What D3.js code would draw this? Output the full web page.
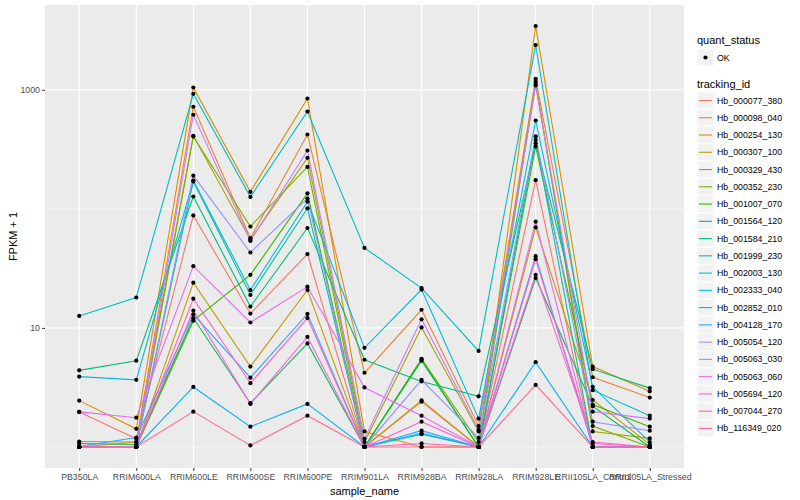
<!DOCTYPE html>
<html>
<head>
<meta charset="utf-8">
<script src="https://cdn.jsdelivr.net/npm/d3@7"></script>
<style>
	body { margin: 0; background: #fff; }
	svg { font-family: "Liberation Sans", Arial, sans-serif; display: block; }
</style>
</head>
<body>
<svg id="chart" width="800" height="500"></svg>
<script>
// Expression plot: FPKM + 1 per sample, one line per tracking id.
//
var samples = ['PB350LA', 'RRIM600LA', 'RRIM600LE', 'RRIM600SE', 'RRIM600PE', 'RRIM901LA',
	'RRIM928BA', 'RRIM928LA', 'RRIM928LE', 'RRII105LA_Control', 'RRII105LA_Stressed'];

var trackingIds = ['Hb_000077_380', 'Hb_000098_040', 'Hb_000254_130', 'Hb_000307_100',
	'Hb_000329_430', 'Hb_000352_230', 'Hb_001007_070', 'Hb_001564_120', 'Hb_001584_210',
	'Hb_001999_230', 'Hb_002003_130', 'Hb_002333_040', 'Hb_002852_010', 'Hb_004128_170',
	'Hb_005054_120', 'Hb_005063_030', 'Hb_005063_060', 'Hb_005694_120', 'Hb_007044_270',
	'Hb_116349_020'];

// FPKM + 1 values, one row per tracking id, in the order of the samples above.
var hb000077_380 = [1.97, 1.17, 88, 13.2, 41.7, 1.0, 2.4, 1.0, 174, 1.0, 1.0];
var hb000098_040 = [1.0, 1.1, 720, 56.7, 421, 4.2, 14.2, 1.5, 1237, 3.85, 2.6];
var hb000254_130 = [2.45, 1.42, 1045, 139, 845, 1.35, 1.0, 1.0, 3430, 4.73, 2.93];
var hb000307_100 = [1.0, 1.0, 24, 4.73, 20.8, 1.0, 2.46, 1.0, 70, 2.48, 1.05];
var hb000329_430 = [1.11, 1.1, 411, 55, 268, 1.1, 10.1, 1.35, 1174, 1.35, 1.18];
var hb000352_230 = [1.0, 1.0, 405, 71, 225, 1.0, 5.5, 1.1, 1123, 1.5, 1.0];
var hb001007_070 = [1.0, 1.0, 11.5, 27.9, 135, 1.0, 5.4, 1.0, 334, 2.27, 1.48];
var hb001564_120 = [1.07, 1.05, 12.1, 2.33, 7.4, 1.0, 5.3, 1.0, 26.2, 2.2, 1.0];
var hb001584_210 = [4.4, 5.3, 127, 15.1, 69, 5.4, 3.55, 2.66, 356, 4.5, 3.12];
var hb001999_230 = [1.0, 1.0, 170, 18.9, 101, 1.0, 1.28, 1.0, 380, 1.0, 1.0];
var hb002003_130 = [12.6, 18, 925, 126, 657, 47, 21.6, 6.4, 2376, 3.0, 1.83];
var hb002333_040 = [3.9, 3.66, 173, 20.8, 115, 6.8, 21, 1.73, 552, 3.2, 1.1];
var hb002852_010 = [1.0, 1.0, 3.19, 1.48, 2.3, 1.0, 1.3, 1.0, 5.15, 1.0, 1.0];
var hb004128_170 = [1.01, 1.2, 13, 3.82, 13.1, 1.0, 1.37, 1.0, 40, 1.0, 1.0];
var hb005054_120 = [1.0, 1.0, 190, 43, 122, 1.0, 3.66, 1.19, 406, 1.63, 1.37];
var hb005063_030 = [1.0, 1.0, 617, 53.8, 309, 1.17, 11.8, 1.39, 1087, 1.98, 1.73];
var hb005063_060 = [1.97, 1.76, 33, 11.1, 22.2, 3.16, 1.83, 1.0, 78, 1.0, 1.0];
var hb005694_120 = [1.0, 1.0, 14, 2.3, 8.4, 1.0, 1.63, 1.0, 27.9, 1.1, 1.0];
var hb007044_270 = [1.0, 1.0, 17.6, 3.43, 12.1, 1.0, 1.07, 1.0, 37.8, 1.07, 1.0];
var hb116349_020 = [1.0, 1.0, 1.98, 1.03, 1.83, 1.0, 1.0, 1.0, 3.32, 1.0, 1.0];

var yTickValues = [10, 1000];
var yMinorValues = [1, 100];

var seriesValues = [hb000077_380, hb000098_040, hb000254_130, hb000307_100, hb000329_430,
	hb000352_230, hb001007_070, hb001564_120, hb001584_210, hb001999_230, hb002003_130,
	hb002333_040, hb002852_010, hb004128_170, hb005054_120, hb005063_030, hb005063_060,
	hb005694_120, hb007044_270, hb116349_020];

// Default ggplot hue palette for 20 levels.
var colours = ['#F8766D', '#EA8331', '#D89000', '#C09B00', '#A3A500', '#7CAE00', '#39B600',
	'#00BB4E', '#00BF7D', '#00C1A3', '#00BFC4', '#00BAE0', '#00B0F6', '#35A2FF', '#9590FF',
	'#C77CFF', '#E76BF3', '#FA62DB', '#FF62BC', '#FF6C91'];

var series = trackingIds.map(function(id, i) {
	return {
		id: id,
		colour: colours[i],
		points: samples.map(function(s, j) { return { sample: s, value: seriesValues[i][j] }; })
	};
});

var panel = { left: 45, right: 684, top: 5, bottom: 468 };
var svg = d3.select('#chart');

// Log scale with the usual 5% expansion on both ends (in log space).
var allValues = d3.merge(seriesValues);
var logMin = Math.log10(d3.min(allValues));
var logMax = Math.log10(d3.max(allValues));
var pad = (logMax - logMin) * 0.05;
var y = d3.scaleLog()
	.domain([Math.pow(10, logMin - pad), Math.pow(10, logMax + pad)])
	.range([panel.bottom, panel.top]);
var x = d3.scalePoint()
	.domain(samples)
	.range([panel.left, panel.right])
	.padding(0.6);

// Panel background and grid.
svg.append('rect')
	.attr('x', panel.left).attr('y', panel.top)
	.attr('width', panel.right - panel.left).attr('height', panel.bottom - panel.top)
	.attr('fill', '#EBEBEB');

var grid = svg.append('g');
grid.selectAll('.minor').data(yMinorValues).enter().append('line')
	.attr('x1', panel.left).attr('x2', panel.right)
	.attr('y1', function(d) { return y(d); }).attr('y2', function(d) { return y(d); })
	.attr('stroke', '#fff').attr('stroke-width', 0.6);
grid.selectAll('.major').data(yTickValues).enter().append('line')
	.attr('x1', panel.left).attr('x2', panel.right)
	.attr('y1', function(d) { return y(d); }).attr('y2', function(d) { return y(d); })
	.attr('stroke', '#fff').attr('stroke-width', 1.1);
grid.selectAll('.vert').data(samples).enter().append('line')
	.attr('x1', function(d) { return x(d); }).attr('x2', function(d) { return x(d); })
	.attr('y1', panel.top).attr('y2', panel.bottom)
	.attr('stroke', '#fff').attr('stroke-width', 1.1);

// Lines, then the points on top of them.
var line = d3.line()
	.x(function(d) { return x(d.sample); })
	.y(function(d) { return y(d.value); });

svg.append('g').selectAll('path').data(series).enter().append('path')
	.attr('d', function(d) { return line(d.points); })
	.attr('fill', 'none')
	.attr('stroke', function(d) { return d.colour; })
	.attr('stroke-width', 1.1);

svg.append('g').selectAll('g').data(series).enter().append('g')
	.selectAll('circle').data(function(d) { return d.points; }).enter().append('circle')
	.attr('cx', function(d) { return x(d.sample); })
	.attr('cy', function(d) { return y(d.value); })
	.attr('r', 2.1)
	.attr('fill', '#000');

// Axes.
var yAxis = d3.axisLeft(y).tickValues(yTickValues).tickSize(3).tickPadding(2)
	.tickFormat(d3.format('d'));
var gy = svg.append('g').attr('transform', 'translate(' + panel.left + ',0)').call(yAxis);
var xAxis = d3.axisBottom(x).tickSize(3).tickPadding(3);
var gx = svg.append('g').attr('transform', 'translate(0,' + panel.bottom + ')').call(xAxis);
[gx, gy].forEach(function(g) {
	g.select('.domain').remove();
	g.selectAll('.tick line').attr('stroke', '#333');
	g.selectAll('.tick text').attr('fill', '#4D4D4D').style('font-size', '8.8px');
});

svg.append('text')
	.attr('x', (panel.left + panel.right) / 2).attr('y', 495)
	.attr('text-anchor', 'middle').style('font-size', '11px')
	.text('sample_name');
svg.append('text')
	.attr('transform', 'translate(17,' + ((panel.top + panel.bottom) / 2) + ') rotate(-90)')
	.attr('text-anchor', 'middle').style('font-size', '11px')
	.text('FPKM + 1');

// Legends.
var legendX = 697;
var legend = svg.append('g');
legend.append('text').attr('x', legendX).attr('y', 44).style('font-size', '11px').text('quant_status');
legend.append('rect').attr('x', legendX).attr('y', 49).attr('width', 17).attr('height', 17)
	.attr('fill', '#F2F2F2').attr('stroke', '#fff');
legend.append('circle').attr('cx', legendX + 8.5).attr('cy', 57.5).attr('r', 2.1).attr('fill', '#000');
legend.append('text').attr('x', legendX + 20).attr('y', 60.5).style('font-size', '8.8px')
	.attr('fill', '#000').text('OK');

legend.append('text').attr('x', legendX).attr('y', 88).style('font-size', '11px').text('tracking_id');
var keyStep = 17.26;
var keys = legend.selectAll('.key').data(series).enter().append('g')
	.attr('transform', function(d, i) { return 'translate(' + legendX + ',' + (92 + i * keyStep) + ')'; });
keys.append('rect').attr('width', 17).attr('height', 17)
	.attr('fill', '#F2F2F2').attr('stroke', '#fff');
keys.append('line').attr('x1', 2).attr('x2', 15).attr('y1', 8.5).attr('y2', 8.5)
	.attr('stroke', function(d) { return d.colour; }).attr('stroke-width', 1.1);
keys.append('text').attr('x', 20).attr('y', 11.5).style('font-size', '8.8px')
	.text(function(d) { return d.id; });
</script>
</body>
</html>
